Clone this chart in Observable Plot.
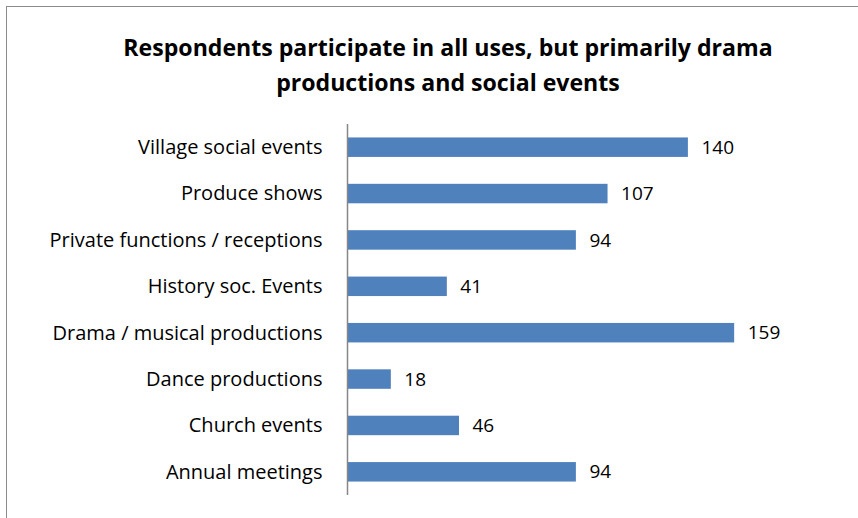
<!DOCTYPE html>
<html>
<head>
<meta charset="utf-8">
<script src="https://cdn.jsdelivr.net/npm/d3@7"></script>
<script src="https://cdn.jsdelivr.net/npm/@observablehq/plot@0.6"></script>
<style>
  body { margin: 0; background: #fff; }
  #wrap { position: relative; width: 858px; height: 518px; overflow: hidden; font-family: "Open Sans", sans-serif; }
  #frame { position: absolute; left: 6px; top: 6px; width: 900px; height: 560px; border: 1.5px solid #8c8c8c; box-sizing: border-box; }
  #title { position: absolute; left: 0; width: 896px; top: 30px; text-align: center; font-weight: bold; font-size: 23.1px; line-height: 35px; color: #000; }
  #chart { position: absolute; left: 0; top: 0; }
</style>
</head>
<body>
<div id="wrap">
  <div id="frame"></div>
  <div id="title">Respondents participate in all uses, but primarily drama<br>productions and social events</div>
  <div id="chart"></div>
</div>
<script>
const categories = [
  "Village social events",
  "Produce shows",
  "Private functions / receptions",
  "History soc. Events",
  "Drama / musical productions",
  "Dance productions",
  "Church events",
  "Annual meetings"
];
const values = [140, 107, 94, 41, 159, 18, 46, 94];

const data = categories.map((c, i) => ({category: c, value: values[i]}));

const plot = Plot.plot({
  width: 858,
  height: 518,
  marginTop: 124,
  marginBottom: 23,
  marginLeft: 347,
  marginRight: 24,
  style: {fontFamily: "'Open Sans', sans-serif", background: "transparent"},
  x: {domain: [0, 200], axis: null},
  y: {domain: categories, paddingInner: 0.58, paddingOuter: 0.29, round: false, label: null},
  marks: [
    Plot.barX(data, {x: "value", y: "category", fill: "#4f81bd"}),
    Plot.ruleX([0], {stroke: "#868686", strokeWidth: 1.5}),
    Plot.text(data, {x: "value", y: "category", text: d => String(d.value), dx: 13, textAnchor: "start", fontSize: 19, fill: "#000"}),
    Plot.axisY({tickSize: 0, tickPadding: 25, fontSize: 20, label: null, color: "#000"})
  ]
});
plot.querySelectorAll("text").forEach(t => t.setAttribute("fill", "#000"));
document.getElementById("chart").appendChild(plot);
</script>
</body>
</html>
